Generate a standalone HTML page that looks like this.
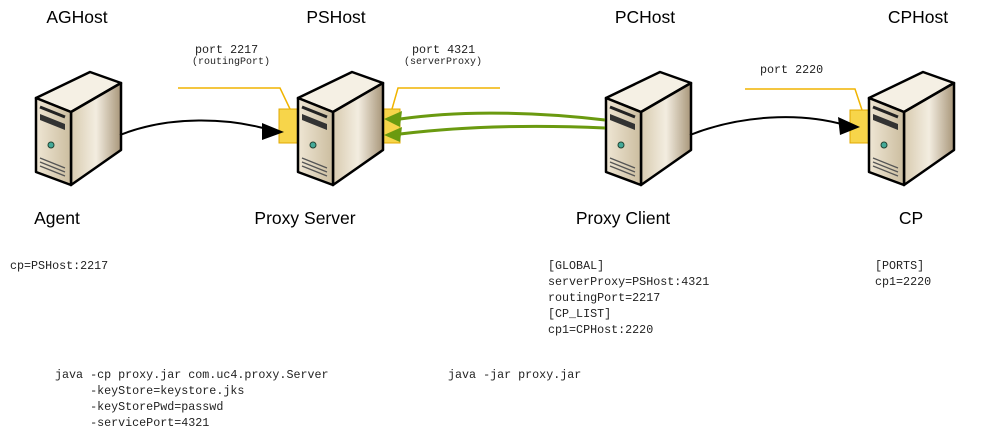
<!DOCTYPE html>
<html><head><style>
body{margin:0;width:1000px;height:432px;background:#fff;overflow:hidden;position:relative;font-family:"Liberation Sans",sans-serif}
.t{position:absolute;font-size:17.5px;color:#000;white-space:nowrap;transform:translateX(-50%)}
.m{position:absolute;font-family:"Liberation Mono",monospace;font-size:11.7px;color:#222;line-height:16px;white-space:pre}
.s{position:absolute;font-family:"Liberation Mono",monospace;font-size:10px;color:#222;white-space:nowrap;transform:translateX(-50%)}
</style></head><body>
<svg width="1000" height="432" style="position:absolute;left:0;top:0">
<defs>
<linearGradient id="fr" x1="0" x2="1"><stop offset="0" stop-color="#efe6d4"/><stop offset="1" stop-color="#cbbd9f"/></linearGradient>
<linearGradient id="sd" x1="0" x2="1"><stop offset="0" stop-color="#d8cbb0"/><stop offset="0.5" stop-color="#f3ede0"/><stop offset="1" stop-color="#a8967a"/></linearGradient>
<g id="srv">
<polygon points="1,28 55,2 86,13 36,42" fill="#f5f0e4" stroke="#000" stroke-width="2.5" stroke-linejoin="round"/>
<polygon points="36,42 86,13 86,80 36,115" fill="url(#sd)" stroke="#000" stroke-width="2.5" stroke-linejoin="round"/>
<polygon points="1,28 36,42 36,115 1,102" fill="url(#fr)" stroke="#000" stroke-width="2.5" stroke-linejoin="round"/>
<line x1="5" y1="37" x2="30" y2="47" stroke="#222" stroke-width="3"/>
<polygon points="5,44 30,54 30,60 5,50" fill="#333"/>
<circle cx="16" cy="75" r="3" fill="#4a9" stroke="#243" stroke-width="1"/>
<line x1="5" y1="88" x2="30" y2="98" stroke="#555" stroke-width="1.3"/>
<line x1="5" y1="92" x2="30" y2="102" stroke="#555" stroke-width="1.3"/>
<line x1="5" y1="96" x2="30" y2="106" stroke="#555" stroke-width="1.3"/>
</g>
</defs>
<rect x="279" y="109" width="19" height="34" fill="#f7d54a" stroke="#e0a800"/>
<rect x="382" y="109" width="18" height="34" fill="#f7d54a" stroke="#e0a800"/>
<rect x="850" y="110" width="19" height="33" fill="#f7d54a" stroke="#e0a800"/>
<polyline points="178,88 280,88 290,109" fill="none" stroke="#f0b400" stroke-width="1.5"/>
<polyline points="500,88 398,88 392,109" fill="none" stroke="#f0b400" stroke-width="1.5"/>
<polyline points="745,89 855,89 862,110" fill="none" stroke="#f0b400" stroke-width="1.5"/>
<use href="#srv" x="35" y="70"/>
<use href="#srv" x="297" y="70"/>
<use href="#srv" x="605" y="70"/>
<use href="#srv" x="868" y="70"/>
<path d="M120,135 C170,115 230,118 270,130" fill="none" stroke="#000" stroke-width="2"/>
<path d="M262,123 L284,132 L262,140 Z" fill="#000"/>
<path d="M690,135 C740,115 800,112 845,125" fill="none" stroke="#000" stroke-width="2"/>
<path d="M838,117 L860,127 L840,135 Z" fill="#000"/>
<path d="M605,120 C520,110 450,112 400,119" fill="none" stroke="#6a9a10" stroke-width="3"/>
<path d="M605,128 C520,124 450,128 400,134" fill="none" stroke="#6a9a10" stroke-width="3"/>
<path d="M384,119 L402,111 L400,127 Z" fill="#6a9a10"/>
<path d="M384,135 L402,127 L400,142 Z" fill="#6a9a10"/>
</svg>
<div class="t" style="left:77px;top:7px">AGHost</div>
<div class="t" style="left:336px;top:7px">PSHost</div>
<div class="t" style="left:645px;top:7px">PCHost</div>
<div class="t" style="left:918px;top:7px">CPHost</div>
<div class="t" style="left:57px;top:208px">Agent</div>
<div class="t" style="left:305px;top:208px">Proxy Server</div>
<div class="t" style="left:623px;top:208px">Proxy Client</div>
<div class="t" style="left:911px;top:208px">CP</div>
<div class="m" style="left:195px;top:42px">port 2217</div>
<div class="s" style="left:231px;top:57px">(routingPort)</div>
<div class="m" style="left:412px;top:42px">port 4321</div>
<div class="s" style="left:443px;top:57px">(serverProxy)</div>
<div class="m" style="left:760px;top:62px">port 2220</div>
<div class="m" style="left:10px;top:258px">cp=PSHost:2217</div>
<div class="m" style="left:548px;top:258px">[GLOBAL]
serverProxy=PSHost:4321
routingPort=2217
[CP_LIST]
cp1=CPHost:2220</div>
<div class="m" style="left:875px;top:258px">[PORTS]
cp1=2220</div>
<div class="m" style="left:55px;top:367px">java -cp proxy.jar com.uc4.proxy.Server
     -keyStore=keystore.jks
     -keyStorePwd=passwd
     -servicePort=4321</div>
<div class="m" style="left:448px;top:367px">java -jar proxy.jar</div>
</body></html>
